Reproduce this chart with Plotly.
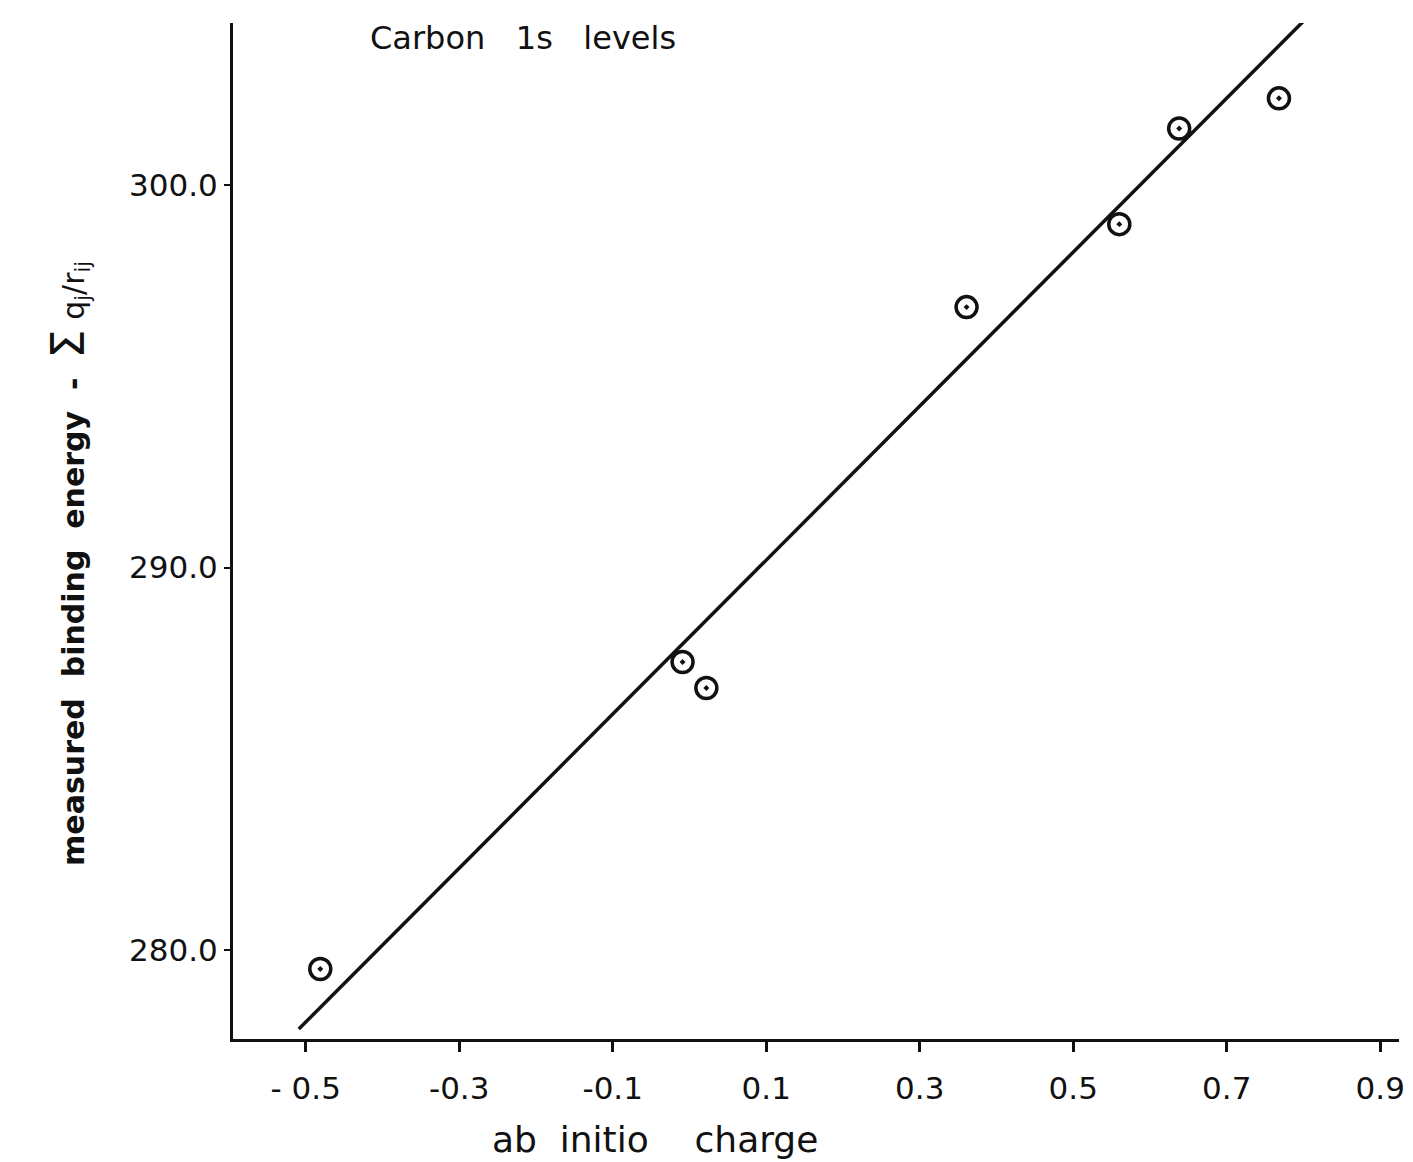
import plotly.graph_objects as go

# Carbon 1s core levels: measured binding energy (corrected for the
# potential of the neighbouring atoms) against ab initio atomic charge
charge = [-0.481, -0.009, 0.022, 0.361, 0.560, 0.638, 0.768]
energy = [279.50, 287.53, 286.85, 296.81, 298.98, 301.48, 302.27]

# least-squares straight line through the points
fit_charge = [-0.509, 0.805]
fit_energy = [277.93, 304.39]

x_ticks = [-0.5, -0.3, -0.1, 0.1, 0.3, 0.5, 0.7, 0.9]
x_tick_text = ["- 0.5", "-0.3", "-0.1", "0.1", "0.3", "0.5", "0.7", "0.9"]
y_ticks = [280, 290, 300]
y_tick_text = ["280.0", "290.0", "300.0"]

FONT = "DejaVu Sans"
INK = "#111111"

fig = go.Figure()

fig.add_trace(go.Scatter(
    x=fit_charge, y=fit_energy, mode="lines",
    line=dict(color=INK, width=3.5), showlegend=False, hoverinfo="skip",
))

fig.add_trace(go.Scatter(
    x=charge, y=energy, mode="markers",
    marker=dict(symbol="circle-open-dot", size=21, color=INK,
                line=dict(color=INK, width=3.5)),
    showlegend=False,
))

fig.update_xaxes(
    range=[-0.5947, 0.9244],
    tickmode="array", tickvals=x_ticks, ticktext=x_tick_text,
    ticks="outside", ticklen=10, tickwidth=2.5, tickcolor=INK,
    showline=True, linecolor=INK, linewidth=3,
    showgrid=False, zeroline=False,
    tickfont=dict(family=FONT, size=31, color=INK),
    ticklabelstandoff=10,
)
fig.update_yaxes(
    range=[277.67, 304.24],
    tickmode="array", tickvals=y_ticks, ticktext=y_tick_text,
    ticks="outside", ticklen=6, tickwidth=2, tickcolor=INK,
    showline=True, linecolor=INK, linewidth=3,
    showgrid=False, zeroline=False,
    tickfont=dict(family=FONT, size=31, color=INK),
)

fig.add_annotation(
    text="Carbon   1s   levels", xref="paper", yref="paper",
    x=0.249, y=0.985, xanchor="center", yanchor="middle",
    showarrow=False, font=dict(family=FONT, size=32, color=INK),
)
fig.add_annotation(
    text="ab  initio    charge", xref="paper", yref="paper",
    x=0.362, y=-0.0994, xanchor="center", yanchor="middle",
    showarrow=False, font=dict(family=FONT, size=36, color=INK),
)
fig.add_annotation(
    text=("<b>measured  binding  energy  -</b>  "
          "<span style='font-size:46px'>Σ</span>"
          " q<sub>j</sub>/r<sub>ij</sub>"),
    xref="paper", yref="paper",
    x=-0.1416, y=0.4685, xanchor="center", yanchor="middle",
    textangle=-90, showarrow=False,
    font=dict(family=FONT, size=30, color=INK),
)

fig.update_layout(
    width=1413, height=1162,
    margin=dict(l=233, r=8, t=23, b=123),
    paper_bgcolor="white", plot_bgcolor="white",
)

fig.write_html("out.html")
